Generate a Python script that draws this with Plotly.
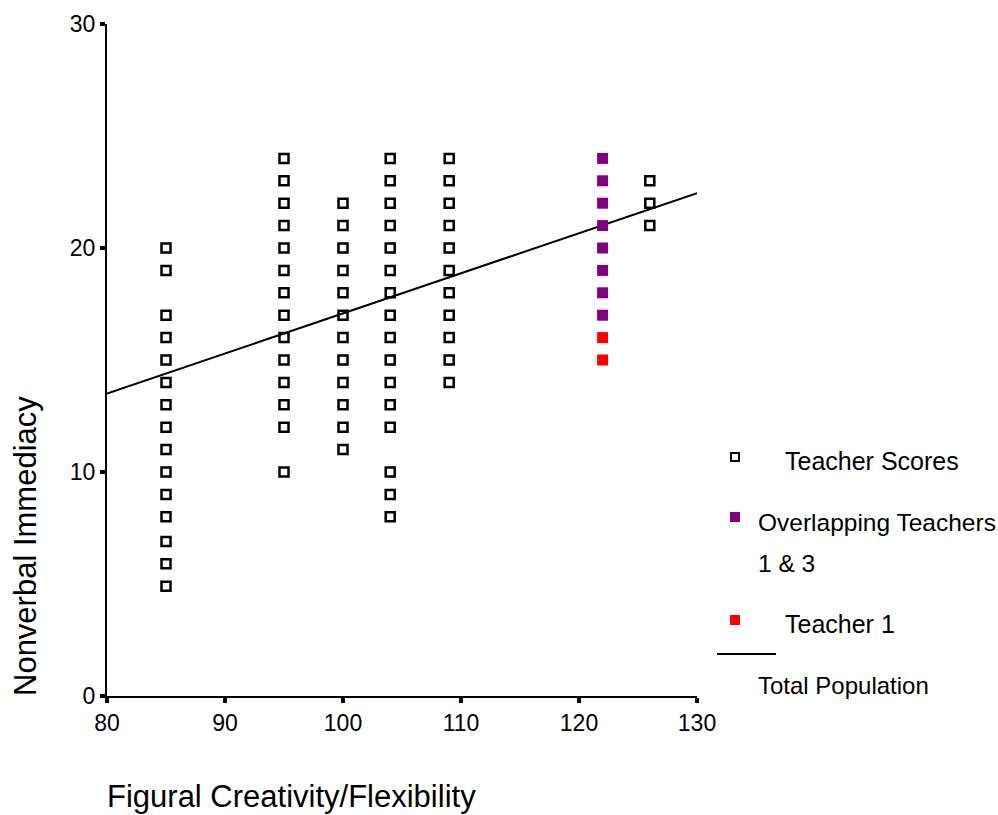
import plotly.graph_objects as go

# Teacher scores: figural creativity/flexibility (x) vs nonverbal immediacy (y)
score_x = (
    [85] * 15 + [95] * 14 + [100] * 12 + [104] * 16 + [109] * 11 + [126] * 3
)
score_y = (
    [20, 19, 17, 16, 15, 14, 13, 12, 11, 10, 9, 8, 6.9, 5.9, 4.9]
    + [24, 23, 22, 21, 20, 19, 18, 17, 16, 15, 14, 13, 12, 10]
    + [22, 21, 20, 19, 18, 17, 16, 15, 14, 13, 12, 11]
    + [24, 23, 22, 21, 20, 19, 18, 17, 16, 15, 14, 13, 12, 10, 9, 8]
    + [24, 23, 22, 21, 20, 19, 18, 17, 16, 15, 14]
    + [23, 22, 21]
)

overlap_x = [122] * 8
overlap_y = [24, 23, 22, 21, 20, 19, 18, 17]

teacher1_x = [122, 122]
teacher1_y = [16, 15]

# Total population trend line
trend_x = [80, 130]
trend_y = [13.5, 22.45]

x_ticks = [80, 90, 100, 110, 120, 130]
y_ticks = [0, 10, 20, 30]

FONT = "Liberation Sans, Arial, sans-serif"

# plot area in pixels
L, R, T, B = 107, 697, 24, 696
W, H = 998, 815


def px(x):
    return (x - L) / (R - L)


def py(y):
    return (B - y) / (B - T)


fig = go.Figure()

fig.add_trace(go.Scatter(
    x=trend_x, y=trend_y, mode="lines",
    line=dict(color="black", width=2), showlegend=False, hoverinfo="skip",
))
fig.add_trace(go.Scatter(
    x=score_x, y=score_y, mode="markers", showlegend=False,
    marker=dict(symbol="square-open", size=9, color="black",
                line=dict(color="black", width=2.5)),
))
fig.add_trace(go.Scatter(
    x=overlap_x, y=overlap_y, mode="markers", showlegend=False,
    marker=dict(symbol="square", size=11, color="#800080",
                line=dict(width=0)),
))
fig.add_trace(go.Scatter(
    x=teacher1_x, y=teacher1_y, mode="markers", showlegend=False,
    marker=dict(symbol="square", size=11, color="#ff0000",
                line=dict(width=0)),
))

axis_common = dict(
    showgrid=False, zeroline=False, showline=True, linecolor="black",
    linewidth=2, ticks="outside", ticklen=5, tickwidth=4, tickcolor="black",
    tickfont=dict(family=FONT, size=23, color="black"),
)

fig.update_xaxes(range=[80, 130], tickvals=x_ticks, **axis_common)
fig.update_yaxes(range=[0, 30], tickvals=y_ticks, **axis_common)

annotations = [
    dict(text="Nonverbal Immediacy", x=px(25), y=py(546), textangle=-90,
         font=dict(size=31)),
    dict(text="Figural Creativity/Flexibility", x=px(291), y=py(796),
         font=dict(size=31)),
    dict(text="Teacher Scores", x=px(783), y=py(461), xanchor="left",
         font=dict(size=25)),
    dict(text="Overlapping Teachers", x=px(756), y=py(522), xanchor="left",
         font=dict(size=24.5)),
    dict(text="1 &amp; 3", x=px(756), y=py(563), xanchor="left",
         font=dict(size=24.5)),
    dict(text="Teacher 1", x=px(783), y=py(624), xanchor="left",
         font=dict(size=25)),
    dict(text="Total Population", x=px(756), y=py(685), xanchor="left",
         font=dict(size=24)),
]
for a in annotations:
    a.update(xref="paper", yref="paper", showarrow=False,
             xanchor=a.get("xanchor", "center"), yanchor="middle")
    a["font"].update(family=FONT, color="black")

# legend swatches
shapes = [
    dict(type="rect", xref="paper", yref="paper", xsizemode="pixel",
         ysizemode="pixel", xanchor=px(735), yanchor=py(457),
         x0=-4, x1=4, y0=-4, y1=4, fillcolor="white",
         line=dict(color="black", width=2)),
    dict(type="rect", xref="paper", yref="paper", xsizemode="pixel",
         ysizemode="pixel", xanchor=px(735), yanchor=py(517),
         x0=-5, x1=5, y0=-5, y1=5, fillcolor="#800080", line=dict(width=0)),
    dict(type="rect", xref="paper", yref="paper", xsizemode="pixel",
         ysizemode="pixel", xanchor=px(735), yanchor=py(620),
         x0=-5, x1=5, y0=-5, y1=5, fillcolor="#ff0000", line=dict(width=0)),
    dict(type="line", xref="paper", yref="paper", x0=px(717), x1=px(776),
         y0=py(654), y1=py(654), line=dict(color="black", width=2)),
]

fig.update_layout(
    width=W, height=H,
    margin=dict(l=L, r=W - R, t=T, b=H - B),
    paper_bgcolor="white", plot_bgcolor="white",
    font=dict(family=FONT, color="black"),
    annotations=annotations, shapes=shapes,
    showlegend=False,
)

fig.write_html("out.html")
